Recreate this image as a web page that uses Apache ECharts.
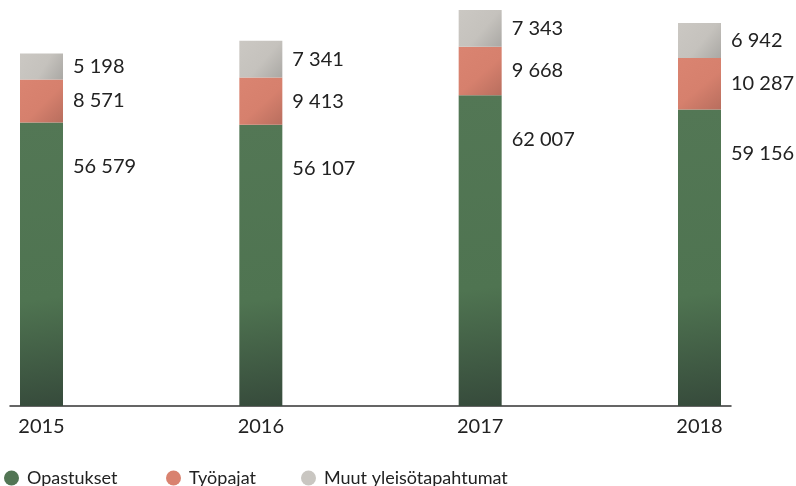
<!DOCTYPE html>
<html>
<head>
<meta charset="utf-8">
<style>
  html, body { margin: 0; padding: 0; background: #fff; }
  #chart { width: 796px; height: 486px; }
</style>
<script src="https://cdn.jsdelivr.net/npm/echarts@6/dist/echarts.min.js"></script>
</head>
<body>
<div id="chart"></div>
<script>
// vuodet ja sarjat
var years = ['2015', '2016', '2017', '2018'];
var opastukset = [56579, 56107, 62007, 59156];
var tyopajat = [8571, 9413, 9668, 10287];
var muut = [5198, 7341, 7343, 6942];

var names = ['Opastukset', 'Työpajat', 'Muut yleisötapahtumat'];
var baseColors = ['#527554', '#d9826f', '#c9c6c1'];

function fmt(v) {
    return String(v).replace(/\B(?=(\d{3})+(?!\d))/g, ' ');
}

function shade(c1, c2, c3, mid) {
    return new echarts.graphic.LinearGradient(0, 0, 1, 1, [
        { offset: 0, color: c1 },
        { offset: mid, color: c2 },
        { offset: 1, color: c3 }
    ]);
}

var labelBase = {
    show: true,
    fontFamily: 'Lato',
    fontSize: 20,
    color: '#222',
    formatter: function (p) { return fmt(p.value); }
};

var legendBase = {
    top: 469,
    padding: 0,
    icon: 'circle',
    itemWidth: 15,
    itemHeight: 15,
    textStyle: { fontFamily: 'Lato', fontSize: 18, color: '#222', padding: [0, 0, 0, 3] }
};

var myChart = echarts.init(document.getElementById('chart'));
myChart.setOption({
    animation: false,
    grid: [
        { left: 41.5, right: 96.5, top: 5, bottom: 80 },
        { left: 10, right: 65, top: 5, bottom: 80 }
    ],
    legend: names.map(function (n, i) {
        return Object.assign({}, legendBase, {
            left: [4, 166, 301][i],
            data: [{ name: n, itemStyle: { color: baseColors[i] } }]
        });
    }),
    xAxis: [
        {
            type: 'category',
            data: years,
            boundaryGap: false,
            axisLine: { show: false },
            axisTick: { show: false },
            axisLabel: { fontFamily: 'Lato', fontSize: 20, color: '#222', margin: 11 }
        },
        {
            type: 'value',
            gridIndex: 1,
            min: 0,
            max: 1,
            axisLine: { show: true, lineStyle: { color: '#333', width: 1.5 } },
            axisTick: { show: false },
            axisLabel: { show: false },
            splitLine: { show: false }
        }
    ],
    yAxis: [
        { type: 'value', min: 0, max: 80000, show: false },
        { type: 'value', gridIndex: 1, min: 0, max: 1, show: false }
    ],
    series: [
        {
            name: names[0],
            type: 'bar',
            stack: 'total',
            barWidth: 43,
            data: opastukset,
            itemStyle: { color: shade('#537755', '#4f7451', '#364a3b', 0.62) },
            label: Object.assign({}, labelBase, { position: [53, 44], align: 'left', verticalAlign: 'middle' })
        },
        {
            name: names[1],
            type: 'bar',
            stack: 'total',
            barWidth: 43,
            data: tyopajat,
            itemStyle: { color: shade('#da8471', '#d6806d', '#b86e5e', 0.55) },
            label: Object.assign({}, labelBase, { position: 'right', distance: 10 })
        },
        {
            name: names[2],
            type: 'bar',
            stack: 'total',
            barWidth: 43,
            data: muut,
            itemStyle: { color: shade('#cbc8c3', '#c5c2bd', '#aaa8a4', 0.55) },
            label: Object.assign({}, labelBase, { position: 'right', distance: 10 })
        }
    ]
});
</script>
</body>
</html>
